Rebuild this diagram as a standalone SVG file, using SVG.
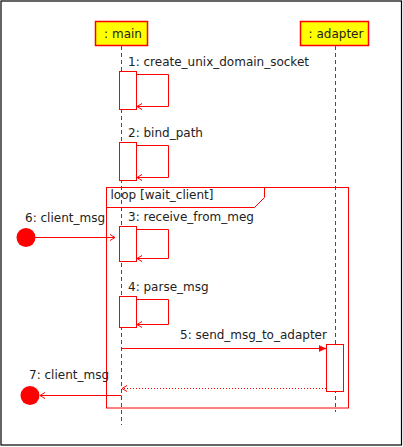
<svg xmlns="http://www.w3.org/2000/svg" width="403" height="447" viewBox="0 0 403 447">
<style>
text{font-family:"DejaVu Sans",sans-serif;font-size:12px;fill:#222}
.life{stroke:#f00;stroke-width:1;stroke-dasharray:4,3;fill:none}
.box{fill:#ff0;stroke:#f00;stroke-width:1.5}
.act{fill:#fff;stroke:#f00;stroke-width:1}
.msg{stroke:#f00;stroke-width:1;fill:none}
.ret{stroke:#f00;stroke-width:1;fill:none;stroke-dasharray:1,2}
</style>
<defs>
<marker id="open" markerWidth="8" markerHeight="8" refX="6" refY="4" orient="auto" markerUnits="userSpaceOnUse">
<path d="M1,1 L6,4 L1,7" fill="none" stroke="#f00" stroke-width="1"/>
</marker>
<marker id="fill" markerWidth="8" markerHeight="8" refX="7" refY="4" orient="auto" markerUnits="userSpaceOnUse">
<path d="M0,1 L7,4 L0,7 Z" fill="#f00" stroke="#f00" stroke-width="0.5"/>
</marker>
</defs>
<rect x="1" y="1" width="400.5" height="444" fill="#fff" stroke="#000" stroke-width="1.2"/>
<g id="lifelines">
<line class="life" x1="121.5" y1="46" x2="121.5" y2="425"/>
<line class="life" x1="335.5" y1="46" x2="335.5" y2="412"/>
</g>
<g id="main">
<rect class="box" x="95.5" y="21.5" width="52" height="24"/>
<text x="123" y="38" text-anchor="middle">: main</text>
</g>
<g id="adapter">
<rect class="box" x="300.5" y="21.5" width="68" height="24"/>
<text x="336" y="38" text-anchor="middle">: adapter</text>
</g>
<g id="loop">
<rect x="106.5" y="187.5" width="242" height="220.5" fill="none" stroke="#f00" stroke-width="1"/>
<path d="M106.5,207.5 H254.5 L264.5,197.5 V187.5" fill="none" stroke="#f00" stroke-width="1"/>
<text x="110.5" y="198.5">loop [wait_client]</text>
</g>
<g id="activations">
<rect class="act" x="119.5" y="71.5" width="17" height="38"/>
<rect class="act" x="119.5" y="142.5" width="17" height="38"/>
<rect class="act" x="119.5" y="226.5" width="17" height="35"/>
<rect class="act" x="119.5" y="296.5" width="17" height="31"/>
<rect class="act" x="326.5" y="344.5" width="17" height="47"/>
</g>
<g id="found">
<circle cx="26" cy="237.5" r="9.5" fill="#f00"/>
</g>
<g id="lost">
<circle cx="30" cy="395.5" r="9.5" fill="#f00"/>
</g>
<g id="connectors">
<path class="msg" d="M136.5,74.5 H168.5 V106.5 H137" marker-end="url(#open)"/>
<path class="msg" d="M136.5,145.5 H168.5 V177.5 H137" marker-end="url(#open)"/>
<path class="msg" d="M136.5,229.5 H168.5 V258.5 H137" marker-end="url(#open)"/>
<path class="msg" d="M136.5,299.5 H168.5 V324.5 H137" marker-end="url(#open)"/>
<line class="msg" x1="35" y1="237.5" x2="115" y2="237.5" marker-end="url(#open)"/>
<line class="msg" x1="121.5" y1="348.5" x2="326" y2="348.5" marker-end="url(#fill)"/>
<line class="ret" x1="326" y1="388.5" x2="122" y2="388.5" marker-end="url(#open)"/>
<line class="msg" x1="121.5" y1="395.5" x2="40" y2="395.5" marker-end="url(#open)"/>
</g>
<g id="labels">
<text x="128" y="66">1: create_unix_domain_socket</text>
<text x="128" y="137">2: bind_path</text>
<text x="128" y="221">3: receive_from_meg</text>
<text x="25" y="222">6: client_msg</text>
<text x="128" y="291">4: parse_msg</text>
<text x="180" y="339">5: send_msg_to_adapter</text>
<text x="29" y="379">7: client_msg</text>
</g>
</svg>
